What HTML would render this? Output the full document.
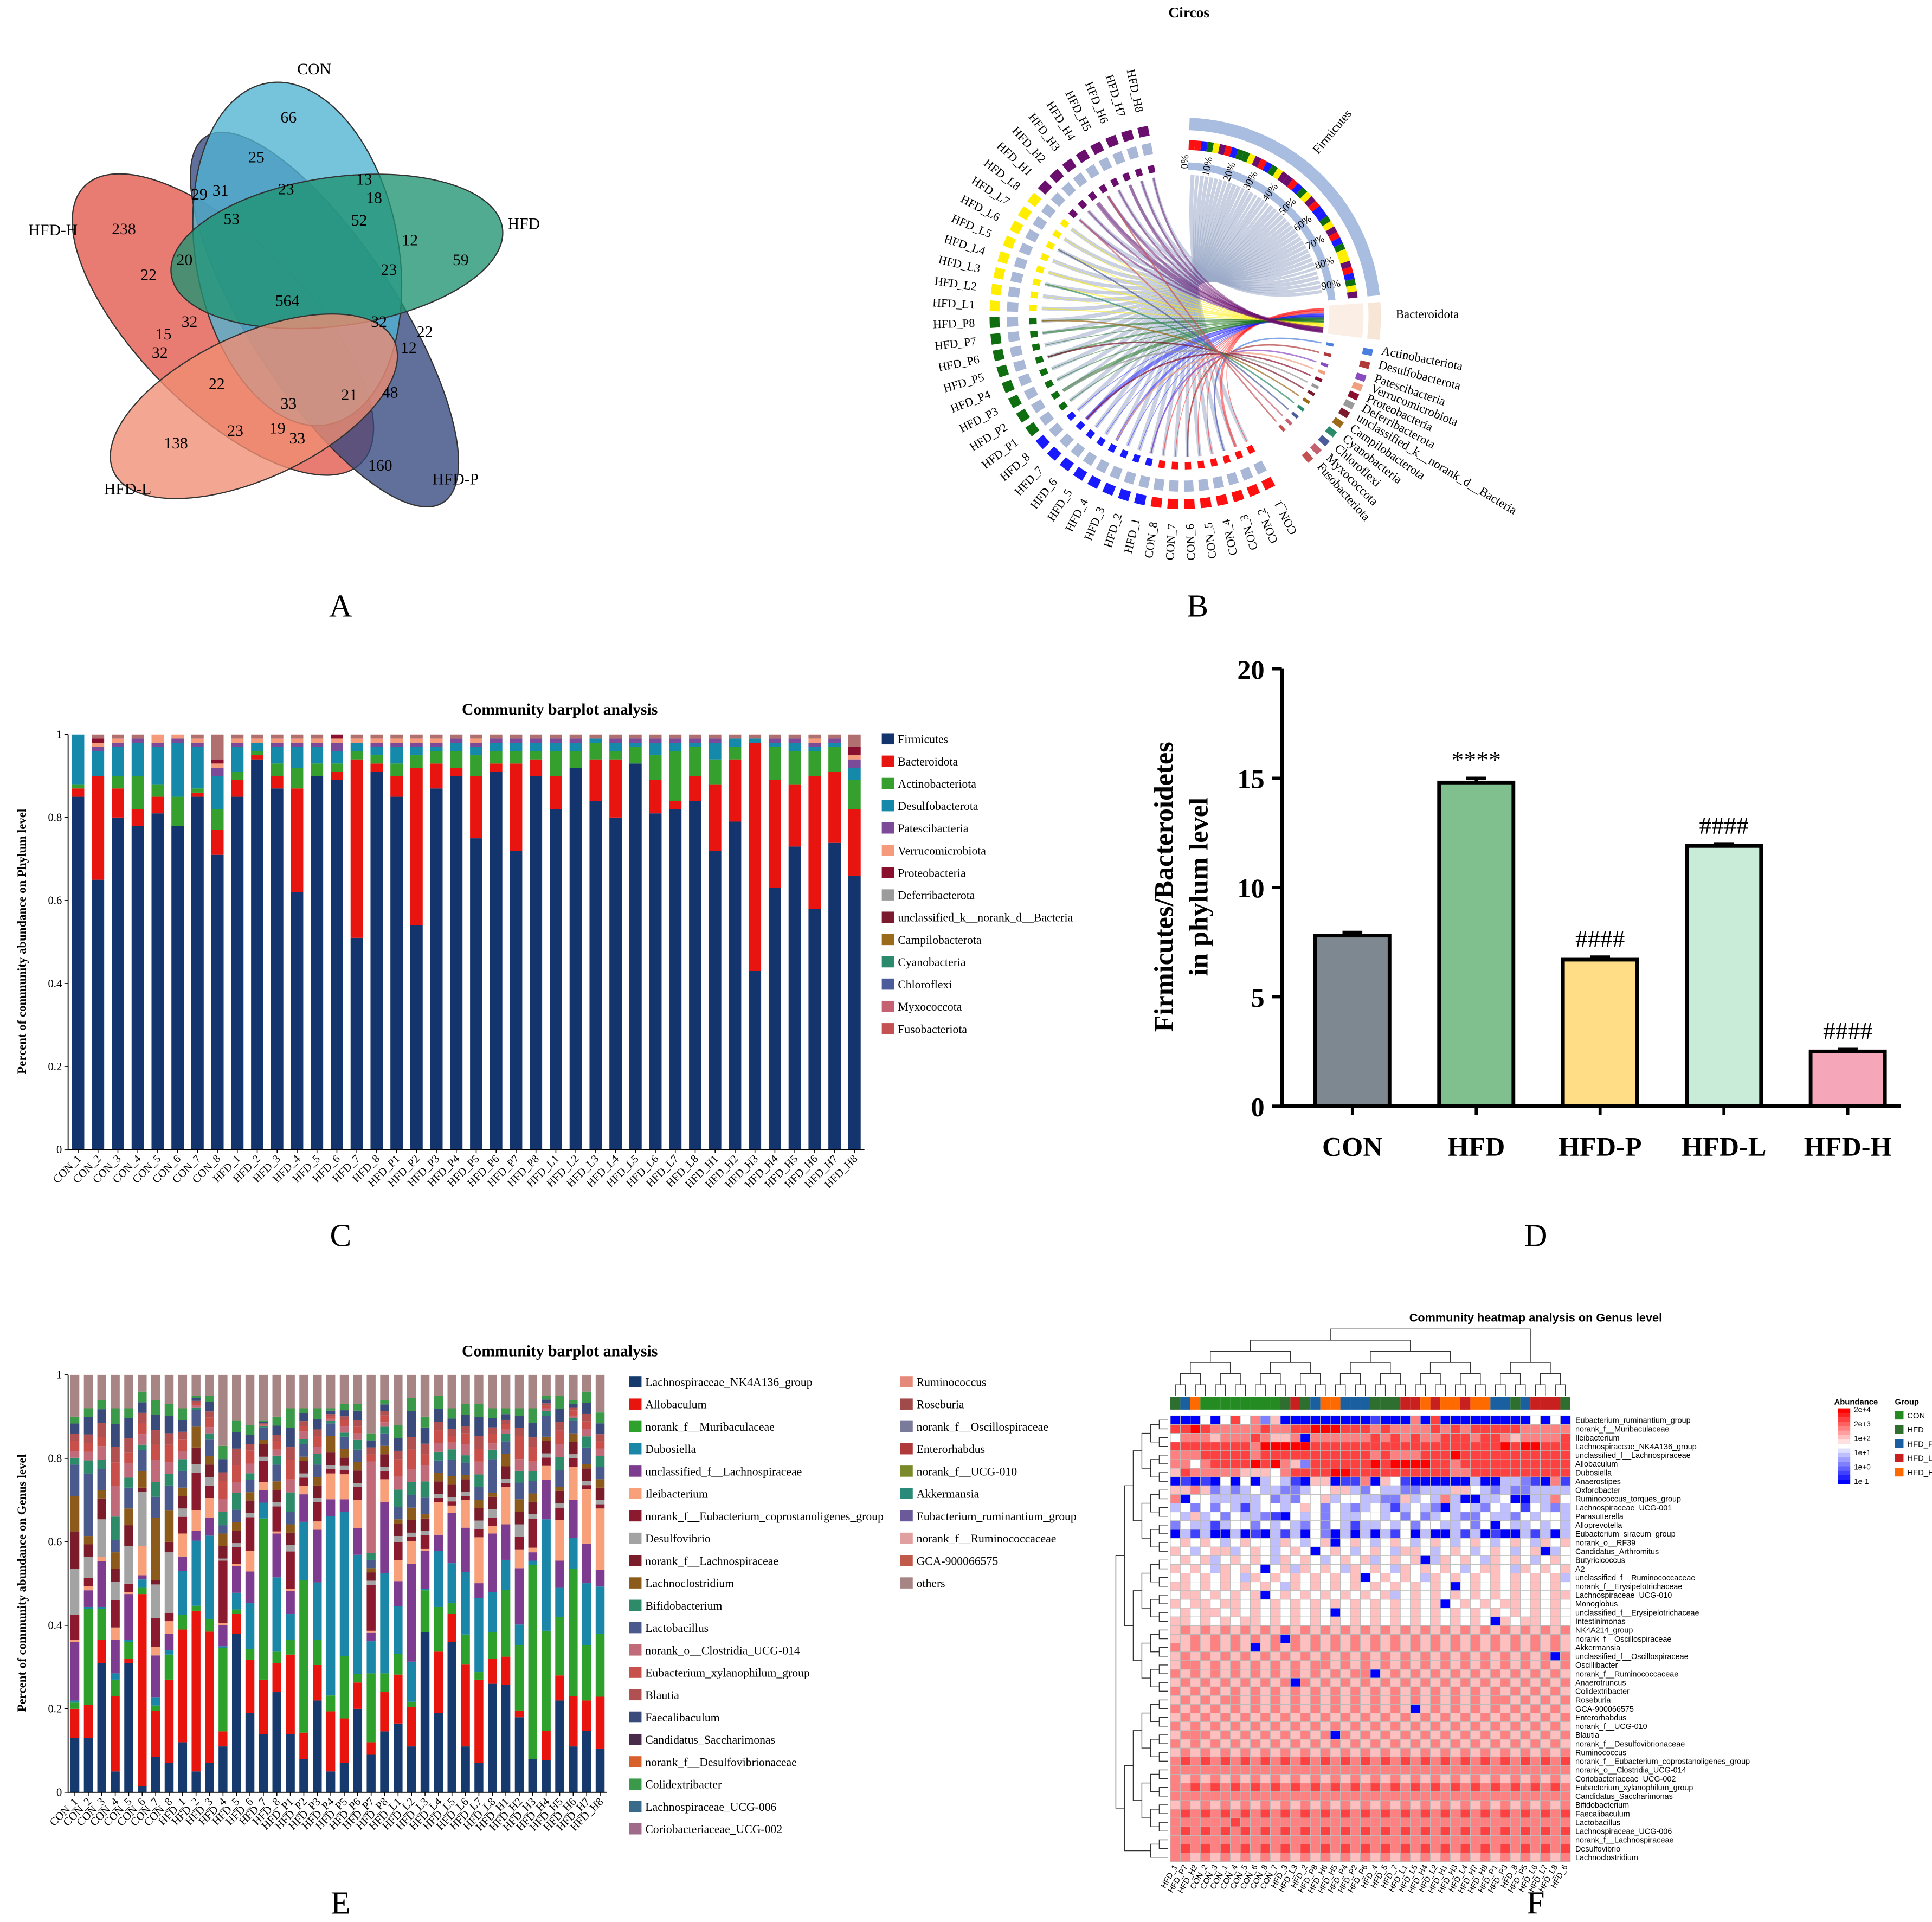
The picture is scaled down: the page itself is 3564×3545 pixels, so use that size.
<!DOCTYPE html>
<html><head><meta charset="utf-8">
<style>
html,body{margin:0;padding:0;background:#fff;}
svg{display:block;}
text{font-family:"Liberation Serif",serif;}
.sans{font-family:"Liberation Sans",sans-serif;}
</style></head>
<body>
<svg id="fig" width="3564" height="3545" viewBox="0 0 1560 1551.7" preserveAspectRatio="none" xmlns="http://www.w3.org/2000/svg">
<rect width="1560" height="1552" fill="#fff"/>

<g font-size="26">
<text x="275" y="498" text-anchor="middle">A</text>
<text x="967" y="498" text-anchor="middle">B</text>
<text x="275" y="1006" text-anchor="middle">C</text>
<text x="1240" y="1006" text-anchor="middle">D</text>
<text x="275" y="1545" text-anchor="middle">E</text>
<text x="1240" y="1545" text-anchor="middle">F</text>
</g>

<g id="venn">
<g stroke="#333" stroke-width="1" fill-opacity="0.78">
<ellipse cx="180" cy="262" rx="68" ry="158" transform="rotate(-45 180 262)" fill="#e2574a"/>
<ellipse cx="262" cy="258" rx="60" ry="176" transform="rotate(-33 262 258)" fill="#34467f"/>
<ellipse cx="240" cy="205" rx="82" ry="140" transform="rotate(-10 240 205)" fill="#4fb3d2"/>
<ellipse cx="272" cy="203" rx="135" ry="60" transform="rotate(-8 272 203)" fill="#1f9372"/>
<ellipse cx="205" cy="328" rx="125" ry="58" transform="rotate(-25 205 328)" fill="#f08d72"/>
</g>
<g font-size="13" text-anchor="middle" class="sans">
<text x="233" y="99">66</text><text x="207" y="131">25</text><text x="231" y="157">23</text><text x="294" y="149">13</text>
<text x="302" y="164">18</text><text x="290" y="182">52</text><text x="331" y="198">12</text><text x="372" y="214">59</text>
<text x="161" y="161">29</text><text x="178" y="158">31</text><text x="187" y="181">53</text><text x="100" y="189">238</text>
<text x="120" y="226">22</text><text x="149" y="214">20</text><text x="314" y="222">23</text><text x="232" y="247">564</text>
<text x="153" y="264">32</text><text x="132" y="274">15</text><text x="129" y="289">32</text><text x="306" y="264">32</text>
<text x="343" y="272">22</text><text x="330" y="285">12</text><text x="175" y="314">22</text><text x="233" y="330">33</text>
<text x="282" y="323">21</text><text x="315" y="321">48</text><text x="190" y="352">23</text><text x="224" y="350">19</text>
<text x="240" y="358">33</text><text x="142" y="362">138</text><text x="307" y="380">160</text>
</g>
<g font-size="13">
<text x="240" y="60">CON</text>
<text x="410" y="185">HFD</text>
<text x="23" y="190">HFD-H</text>
<text x="84" y="399">HFD-L</text>
<text x="349" y="391">HFD-P</text>
</g>
</g>

<g id="circos">
<text x="960" y="14" font-size="12" font-weight="bold" text-anchor="middle">Circos</text>
</g>

<g id="chartC">
<text x="452" y="577" font-size="13" font-weight="bold" text-anchor="middle">Community barplot analysis</text>
<text transform="translate(21 760) rotate(-90)" font-size="10" font-weight="bold" text-anchor="middle">Percent of community abundance on Phylum level</text>
</g>

<g id="chartD">
<text transform="translate(947 716) rotate(-90)" font-size="22" font-weight="bold" text-anchor="middle">Firmicutes/Bacteroidetes</text>
<text transform="translate(975 716) rotate(-90)" font-size="22" font-weight="bold" text-anchor="middle">in phylum level</text>
</g>

<g id="chartE">
<text x="452" y="1095" font-size="13" font-weight="bold" text-anchor="middle">Community barplot analysis</text>
<text transform="translate(21 1278) rotate(-90)" font-size="10" font-weight="bold" text-anchor="middle">Percent of community abundance on Genus level</text>
</g>

<g id="chartF">
<text x="1240" y="1067" font-size="9.5" font-weight="bold" text-anchor="middle" class="sans">Community heatmap analysis on Genus level</text>
</g>
</svg>

<script>
const NS="http://www.w3.org/2000/svg";
function mk(parent,tag,attrs,txt){const e=document.createElementNS(NS,tag);for(const k in attrs)e.setAttribute(k,attrs[k]);if(txt!==undefined)e.textContent=txt;parent.appendChild(e);return e;}

const samples=["CON_1","CON_2","CON_3","CON_4","CON_5","CON_6","CON_7","CON_8","HFD_1","HFD_2","HFD_3","HFD_4","HFD_5","HFD_6","HFD_7","HFD_8",
"HFD_P1","HFD_P2","HFD_P3","HFD_P4","HFD_P5","HFD_P6","HFD_P7","HFD_P8","HFD_L1","HFD_L2","HFD_L3","HFD_L4","HFD_L5","HFD_L6","HFD_L7","HFD_L8",
"HFD_H1","HFD_H2","HFD_H3","HFD_H4","HFD_H5","HFD_H6","HFD_H7","HFD_H8"];

// ===== Panel C data =====
const phylumNames=["Firmicutes","Bacteroidota","Actinobacteriota","Desulfobacterota","Patescibacteria","Verrucomicrobiota","Proteobacteria","Deferribacterota","unclassified_k__norank_d__Bacteria","Campilobacterota","Cyanobacteria","Chloroflexi","Myxococcota","Fusobacteriota"];
const phylumColors=["#13346c","#e8140f","#35a02e","#1589a9","#7b4a98","#f59b7c","#8a0e2e","#9c9c9c","#7a1a2c","#9b6a1b","#2b8a6b","#4b5b9b","#c46272","#c45252"];
const firmicutes=[.85,.65,.80,.78,.81,.78,.85,.71,.85,.94,.87,.62,.90,.89,.51,.91,.85,.54,.87,.90,.75,.91,.72,.90,.82,.92,.84,.80,.93,.81,.82,.84,.72,.79,.43,.63,.73,.58,.74,.66];
const bacteroidota=[.02,.25,.07,.04,.04,.00,.01,.06,.04,.01,.03,.25,.00,.02,.43,.02,.05,.38,.06,.02,.15,.02,.21,.04,.08,.00,.10,.14,.00,.08,.02,.06,.16,.15,.55,.26,.15,.32,.17,.16];
const actinobacteriota=[.01,.00,.03,.08,.03,.07,.01,.05,.02,.01,.03,.05,.03,.02,.02,.02,.03,.03,.03,.04,.05,.03,.03,.02,.06,.04,.04,.02,.04,.06,.12,.07,.06,.03,.00,.08,.08,.06,.06,.07];
const desulfobacterota=[.12,.06,.07,.08,.09,.13,.10,.08,.06,.02,.04,.05,.04,.03,.02,.02,.04,.02,.01,.02,.02,.02,.02,.02,.02,.02,.01,.02,.01,.03,.02,.01,.04,.02,.01,.01,.02,.01,.01,.03];
const patescibacteria=[.00,.01,.01,.01,.01,.01,.01,.02,.01,.00,.01,.01,.01,.02,.00,.01,.01,.01,.01,.01,.01,.01,.01,.01,.01,.01,.00,.01,.01,.01,.01,.01,.01,.00,.00,.01,.01,.01,.01,.02];
const verrucomicrobiota=[.00,.01,.01,.00,.02,.01,.01,.01,.01,.01,.01,.01,.01,.01,.01,.01,.01,.01,.01,.00,.01,.00,.00,.00,.00,.00,.00,.00,.00,.00,.00,.00,.00,.00,.00,.00,.00,.01,.00,.01];
const proteobacteria=[.00,.01,.00,.00,.00,.00,.00,.01,.00,.00,.00,.00,.00,.01,.00,.00,.00,.00,.00,.00,.00,.00,.00,.00,.00,.00,.00,.00,.00,.00,.00,.00,.00,.00,.00,.00,.00,.00,.00,.02];
const yTicksC=["0","0.2","0.4","0.6","0.8","1"];
const yTickValsC=[0,.2,.4,.6,.8,1];

(function(){
const g=document.getElementById('chartC');
const x0=55,x1=698,y0=928,y1=593;const pitch=(x1-x0)/samples.length;
const yS=v=>y0-(y0-y1)*v; const xS=i=>x0+(i+.5)*pitch;
const series=[firmicutes,bacteroidota,actinobacteriota,desulfobacterota,patescibacteria,verrucomicrobiota,proteobacteria];
samples.forEach((s,i)=>{let acc=0;series.forEach((arr,k)=>{const v=arr[i];if(v<=0)return;
const r=mk(g,'rect',{x:xS(i)-5,y:yS(acc+v),width:10,height:yS(acc)-yS(acc+v),fill:phylumColors[k]});


acc+=v;});
const rest=Math.max(0,1-acc);
if(rest>0){const r=mk(g,'rect',{x:xS(i)-5,y:yS(1),width:10,height:yS(acc)-yS(1),fill:"#b07070"});

}
const t=mk(g,'text',{x:xS(i)+3,y:y0+8,'font-size':9,'text-anchor':'end',transform:`rotate(-45 ${xS(i)+3} ${y0+8})`},s);


mk(g,'line',{x1:xS(i),x2:xS(i),y1:y0,y2:y0+3,stroke:'#000','stroke-width':.7});
});
const ax=mk(g,'path',{d:`M${x0} ${y1} V${y0} H${x1}`,stroke:'#000','stroke-width':.8,fill:'none'});


yTickValsC.forEach((v,k)=>{mk(g,'line',{x1:x0-3,x2:x0,y1:yS(v),y2:yS(v),stroke:'#000','stroke-width':.7});
const t=mk(g,'text',{x:x0-5,y:yS(v)+3,'font-size':9,'text-anchor':'end'},yTicksC[k]);

});
phylumNames.forEach((n,k)=>{const y=597+k*18;
const lg=mk(g,'g',{});


mk(lg,'rect',{x:712,y:y-5,width:10,height:9,fill:phylumColors[k]});
mk(lg,'text',{x:725,y:y+3,'font-size':9.5},n);});
})();

// ===== Panel D data =====
const groupsD=["CON","HFD","HFD-P","HFD-L","HFD-H"];
const ratioD=[7.8,14.8,6.7,11.9,2.5];
const errD=[0.15,0.2,0.12,0.1,0.1];
const sigD=["","****","####","####","####"];
const colorsD=["#7e8890","#80c08f","#fedd86","#c9ecd8","#f5a7b9"];
const yTicksD=[0,5,10,15,20];
(function(){
const g=document.getElementById('chartD');
const x0=1035,x1=1535,y0=893,y1=540;const yS=v=>y0-(y0-y1)*v/20;
const pitch=(x1-x0)/groupsD.length;const xS=i=>x0+pitch*(i+.5)+7;
groupsD.forEach((n,i)=>{
const r=mk(g,'rect',{x:xS(i)-30,y:yS(ratioD[i]),width:60,height:y0-yS(ratioD[i]),fill:colorsD[i],stroke:'#000','stroke-width':3});


const e=mk(g,'path',{d:`M${xS(i)} ${yS(ratioD[i])} V${yS(ratioD[i]+errD[i])} M${xS(i)-8} ${yS(ratioD[i]+errD[i])} H${xS(i)+8}`,stroke:'#000','stroke-width':2.5,fill:'none'});


if(sigD[i]){const t=mk(g,'text',{x:xS(i),y:yS(ratioD[i]+errD[i])-8,'font-size':20,'text-anchor':'middle'},sigD[i]);

}
const t=mk(g,'text',{x:xS(i),y:y0+40,'font-size':22,'font-weight':'bold','text-anchor':'middle'},n);


mk(g,'line',{x1:xS(i),x2:xS(i),y1:y0,y2:y0+7,stroke:'#000','stroke-width':2.5});
});
const ax=mk(g,'path',{d:`M${x0} ${y1} V${y0} H${x1}`,stroke:'#000','stroke-width':3,fill:'none'});


yTicksD.forEach(v=>{mk(g,'line',{x1:x0-8,x2:x0,y1:yS(v),y2:yS(v),stroke:'#000','stroke-width':2.5});
const t=mk(g,'text',{x:x0-14,y:yS(v)+8,'font-size':22,'font-weight':'bold','text-anchor':'end'},String(v));

});
})();

// ===== Panel E data =====
const genusLegend=["Lachnospiraceae_NK4A136_group","Allobaculum","norank_f__Muribaculaceae","Dubosiella","unclassified_f__Lachnospiraceae","Ileibacterium","norank_f__Eubacterium_coprostanoligenes_group","Desulfovibrio","norank_f__Lachnospiraceae","Lachnoclostridium","Bifidobacterium","Lactobacillus","norank_o__Clostridia_UCG-014","Eubacterium_xylanophilum_group","Blautia","Faecalibaculum","Candidatus_Saccharimonas","norank_f__Desulfovibrionaceae","Colidextribacter","Lachnospiraceae_UCG-006","Coriobacteriaceae_UCG-002",
"Ruminococcus","Roseburia","norank_f__Oscillospiraceae","Enterorhabdus","norank_f__UCG-010","Akkermansia","Eubacterium_ruminantium_group","norank_f__Ruminococcaceae","GCA-900066575","others"];
const genusColors=["#163a6e","#e8150f","#2ea02c","#1b87a8","#7d3c8f","#f7a07a","#8b1a2e","#a3a3a3","#7a1c2a","#8c5a1a","#2e8b6a","#4a5a8c","#c06a7a","#c9504a","#b05050","#3a4a7a","#4a2a4a","#d8602a","#3a9a4a","#3a6a8a","#a06a8a",
"#e58a7a","#a04a4a","#7a7a9a","#b03a3a","#7a8a2a","#2a8a7a","#6a5a9a","#e0a0a0","#c05a4a","#a88585"];
const nk4a136=[.13,.13,.31,.05,.31,.015,.085,.07,.12,.05,.07,.11,.38,.19,.14,.24,.14,.08,.22,.05,.07,.20,.09,.146,.165,.11,.384,.19,.36,.11,.07,.26,.257,.18,.08,.077,.22,.11,.147,.105];
const allobaculum=[.07,.08,.055,.18,.01,.46,.11,.20,.27,.385,.315,.036,.048,.128,.13,.07,.19,.063,.085,.144,.107,.063,.03,.094,.117,.094,.0,.147,.068,.196,.20,.06,.068,.016,.0,.07,.06,.12,.073,.124];
const muribaculaceae=[.015,.23,.075,.04,.04,.015,.013,.06,.035,.012,.03,.2,.01,.025,.386,.027,.035,.365,.06,.038,.15,.02,.165,.045,.05,.013,.1,.107,.025,.072,.018,.063,.16,.156,.465,.24,.14,.305,.133,.15];
const dubosiella=[.005,.004,.004,.015,.005,.02,.02,.01,.105,.156,.2,.004,.04,.11,.038,.178,.062,.14,.138,.43,.345,.286,.077,.24,.114,.096,.004,.135,.096,.15,.177,.097,.072,.05,.01,.267,.07,.075,.148,.114];
const unclLachno=[.14,.04,.11,.08,.11,.01,.1,.04,.035,.023,.043,.05,.064,.076,.03,.105,.055,.066,.126,.04,.03,.064,.02,.17,.06,.234,.09,.038,.12,.106,.036,.14,.085,.135,.02,.095,.065,.09,.095,.04];
const ileibacterium=[.005,.01,.01,.03,.005,.07,.02,.03,.055,.05,.047,.005,.005,.05,.02,.005,.005,.02,.02,.062,.06,.068,.005,.055,.05,.055,.005,.078,.018,.066,.11,.018,.089,.045,.011,.033,.097,.08,.13,.147];
const eubCopro=[.06,.02,.0,.065,.02,.0,.07,.02,.04,.09,.03,.15,.04,.08,.05,.06,.09,.02,.046,.01,.01,.03,.11,.02,.043,.01,.033,.01,.01,.01,.02,.02,.01,.03,.07,.02,.03,.02,.01,.01];
const desulfovibrio=[.11,.05,.09,.045,.09,.13,.08,.145,.02,.02,.02,.005,.01,.01,.01,.01,.015,.01,.01,.01,.01,.01,.01,.01,.015,.01,.01,.01,.01,.01,.02,.02,.01,.03,.01,.01,.01,.01,.01,.01];
const norankLachno=[.09,.03,.05,.03,.05,.01,.01,.025,.03,.04,.03,.03,.03,.03,.03,.03,.03,.03,.03,.03,.02,.03,.02,.03,.03,.03,.03,.03,.03,.03,.03,.03,.03,.03,.03,.03,.03,.03,.03,.03];
const lachnoclostridium=[.085,.02,.02,.04,.04,.04,.15,.075,.02,.05,.02,.03,.02,.02,.01,.02,.02,.01,.02,.04,.02,.02,.01,.02,.01,.03,.01,.02,.02,.01,.02,.01,.03,.03,.02,.01,.01,.02,.01,.02];
const lactobacillus=[.075,.15,.05,.03,.05,.05,.05,.06,.04,.04,.04,.02,.03,.03,.03,.04,.03,.03,.03,.03,.03,.03,.02,.03,.03,.03,.04,.03,.04,.03,.03,.08,.03,.04,.03,.05,.04,.03,.04,.03];
const bifidobacterium=[.02,.03,.02,.03,.02,.01,.02,.02,.03,.02,.02,.03,.03,.02,.02,.03,.03,.02,.03,.02,.02,.03,.02,.03,.04,.02,.03,.02,.03,.02,.02,.03,.04,.03,.02,.04,.03,.02,.03,.03];
const clostridia014=[.02,.02,.03,.04,.03,.02,.03,.02,.02,.03,.02,.03,.02,.03,.02,.02,.02,.03,.02,.02,.03,.02,.26,.02,.03,.02,.03,.02,.02,.03,.02,.02,.02,.03,.02,.02,.03,.02,.02,.02];
const eubXylano=[.03,.02,.02,.03,.02,.02,.02,.03,.03,.02,.03,.04,.03,.04,.02,.03,.03,.02,.03,.02,.03,.02,.02,.03,.04,.03,.02,.03,.02,.03,.02,.03,.03,.06,.03,.02,.03,.04,.02,.02];
const blautia=[.02,.02,.03,.02,.03,.02,.02,.02,.02,.02,.02,.02,.03,.02,.02,.02,.02,.02,.02,.02,.02,.02,.02,.02,.02,.02,.02,.02,.02,.02,.02,.02,.02,.02,.02,.02,.02,.02,.02,.02];
const faecalibaculum=[.03,.04,.03,.03,.04,.02,.02,.03,.03,.03,.03,.03,.03,.03,.03,.03,.03,.03,.03,.03,.03,.03,.02,.03,.03,.04,.03,.03,.03,.03,.03,.03,.03,.03,.03,.03,.03,.03,.03,.03];
const colidextribacter=[.02,.02,.02,.02,.02,.02,.02,.02,.03,.02,.02,.03,.02,.03,.02,.03,.03,.02,.03,.02,.03,.02,.02,.02,.03,.02,.02,.03,.03,.03,.02,.03,.03,.02,.03,.03,.03,.03,.03,.03];
const othersE=[.10,.08,.06,.08,.08,.04,.06,.07,.08,.05,.05,.17,.11,.12,.11,.10,.08,.08,.08,.08,.07,.07,.14,.06,.12,.055,.10,.05,.08,.07,.07,.08,.08,.08,.08,.05,.05,.06,.04,.09];
const yTicksE=["0","0.2","0.4","0.6","0.8","1"];
(function(){
const g=document.getElementById('chartE');
const x0=55,x1=490,y0=1447,y1=1110;const pitch=(x1-x0)/samples.length;
const yS=v=>y0-(y0-y1)*v;const xS=i=>x0+(i+.5)*pitch;
const major=[[nk4a136,0],[allobaculum,1],[muribaculaceae,2],[dubosiella,3],[unclLachno,4],[ileibacterium,5],[eubCopro,6],[desulfovibrio,7],[norankLachno,8],[lachnoclostridium,9],[lactobacillus,11]];
const minor=[[bifidobacterium,10],[clostridia014,12],[eubXylano,13],[blautia,14],[faecalibaculum,15],[colidextribacter,18]];
samples.forEach((s,i)=>{
let msum=0;major.forEach(m=>msum+=m[0][i]);
const oth=othersE[i];
const msc=msum+oth>1?(1-oth)/msum:1;
let acc=0;
function seg(v,k,nm){if(v<=0)return;const r=mk(g,'rect',{x:xS(i)-3.6,y:yS(acc+v),width:7.2,height:yS(acc)-yS(acc+v),fill:genusColors[k]});

acc+=v;}
major.forEach(m=>seg(m[0][i]*msc,m[1],genusLegend[m[1]]));
const gap=Math.max(0,1-oth-acc);let nsum=0;minor.forEach(m=>nsum+=m[0][i]);
minor.forEach(m=>seg(gap*m[0][i]/nsum,m[1],genusLegend[m[1]]));
seg(1-acc,30,'others');
const t=mk(g,'text',{x:xS(i)+3,y:y0+8,'font-size':9,'text-anchor':'end',transform:`rotate(-45 ${xS(i)+3} ${y0+8})`},s);


mk(g,'line',{x1:xS(i),x2:xS(i),y1:y0,y2:y0+3,stroke:'#000','stroke-width':.7});
});
const ax=mk(g,'path',{d:`M${x0} ${y1} V${y0} H${x1}`,stroke:'#000','stroke-width':.8,fill:'none'});


yTicksE.forEach((lab,k)=>{const v=k*.2;mk(g,'line',{x1:x0-3,x2:x0,y1:yS(v),y2:yS(v),stroke:'#000','stroke-width':.7});
const t=mk(g,'text',{x:x0-5,y:yS(v)+3,'font-size':9,'text-anchor':'end'},lab);

});
genusLegend.forEach((n,k)=>{const col=k<21?0:1;const row=col?k-21:k;const x=col?727:508;const y=1116+row*18.05;
const lg=mk(g,'g',{});


mk(lg,'rect',{x:x,y:y-5,width:10,height:9,fill:genusColors[k]});
mk(lg,'text',{x:x+13,y:y+3,'font-size':9.5},n);});
})();

// ===== Panel F data =====
const heatRows=["Eubacterium_ruminantium_group","norank_f__Muribaculaceae","Ileibacterium","Lachnospiraceae_NK4A136_group","unclassified_f__Lachnospiraceae","Allobaculum","Dubosiella","Anaerostipes","Oxfordbacter","Ruminococcus_torques_group","Lachnospiraceae_UCG-001","Parasutterella","Alloprevotella","Eubacterium_siraeum_group","norank_o__RF39","Candidatus_Arthromitus","Butyricicoccus","A2","unclassified_f__Ruminococcaceae","norank_f__Erysipelotrichaceae","Lachnospiraceae_UCG-010","Monoglobus","unclassified_f__Erysipelotrichaceae","Intestinimonas","NK4A214_group","norank_f__Oscillospiraceae","Akkermansia","unclassified_f__Oscillospiraceae","Oscillibacter","norank_f__Ruminococcaceae","Anaerotruncus","Colidextribacter","Roseburia","GCA-900066575","Enterorhabdus","norank_f__UCG-010","Blautia","norank_f__Desulfovibrionaceae","Ruminococcus","norank_f__Eubacterium_coprostanoligenes_group","norank_o__Clostridia_UCG-014","Coriobacteriaceae_UCG-002","Eubacterium_xylanophilum_group","Candidatus_Saccharimonas","Bifidobacterium","Faecalibaculum","Lactobacillus","Lachnospiraceae_UCG-006","norank_f__Lachnospiraceae","Desulfovibrio","Lachnoclostridium"];
const heatCols=["HFD_1","HFD_P7","HFD_H2","CON_2","CON_3","CON_1","CON_4","CON_5","CON_6","CON_8","CON_7","HFD_3","HFD_L3","HFD_2","HFD_P8","HFD_H6","HFD_H5","HFD_P4","HFD_P2","HFD_P6","HFD_4","HFD_5","HFD_7","HFD_L1","HFD_L5","HFD_H4","HFD_L2","HFD_H1","HFD_H3","HFD_L4","HFD_H7","HFD_H8","HFD_P1","HFD_P3","HFD_8","HFD_P5","HFD_L6","HFD_L7","HFD_L8","HFD_6"];
const heatGroups="HPAccccccccHLHPAAPPPHHHLLALAALAAPPHPLLLH";
const heatVals=[
"0004047462500000000010006070000000004040",
"7787666667667788877767666676767777766666",
"4666566676556066666676767667776776566667",
"7777777768888877777777777777777778788777",
"6667777767777777777767666777877777777777",
"6646777787865277777787888877677777777777",
"5766666555467777887777777777667777777777",
"0101040403431055011605410000003003321061",
"5565232343322344553243322333554323223333",
"6044333334232445344332253436300334003364",
"3424243134434542432343134320343243414323",
"4353424332104342433443424234322433243443",
"2433134424343242431334342443342404334343",
"0313003010313042030303140300313010031303",
"4545434544354345045434543454345434543545",
"5434553454345404543454355434543454345034",
"4545345454354543454534545035454354543454",
"5454354540453545435454354545434554354545",
"4545454354545454545045454354545454545453",
"5545454545435454545454545454045454545454",
"4554545450454545454545345454545454545455",
"5455455454545454545454545450454545545454",
"4545545454545454045454545454545454545454",
"5545454554545454545454545454545405455454",
"5656565656565656565656565656565656565656",
"5565656565606565656565656565656565656565",
"6565656505656565656565656565656565656565",
"5656565656565656565656565656565656565606",
"5665656565656566565656565656565656565656",
"6565656565656565656605656565656565656565",
"5656565656560656565656565656565656565656",
"6565656565656565656565656565656565656565",
"5656566565656565656565656565656566565656",
"6565656565656565656565650565656565656565",
"5656565656565656565656565656565656565656",
"6565656565656565656565656565656565656565",
"5666565656565656065656565656565656565656",
"6565656565656565656565656565656565656565",
"5656565656565656565656565656565656565656",
"6767676767676767676767676767676767676767",
"6666666666666666666666666666666666666666",
"6565656565656565656565656565656565656565",
"6676767676767676767676767676767676767676",
"6666666666666666666666666666666666666666",
"5656565656565656565656565656565656565656",
"6767676767676767676767676767676767676767",
"6666667666666666666666666666666666666666",
"6767676767676767676767676767676767676767",
"6666666666666666666666666666666666666666",
"6767676767676767676767676767676767676767",
"6656565656565656565656565656565656565656"];
const groupColor={c:"#238b22",H:"#2e6e2e",P:"#1a5fa0",L:"#c8201e",A:"#ff6a00"};
function heatColor(d){
  if(d<=4){const t=d/4;const r=Math.round(255*t),gg=Math.round(255*t);return `rgb(${r},${gg},255)`;}
  const t=(d-4)/4;const gb=Math.round(255-255*t);return `rgb(255,${gb},${gb})`;
}
(function(){
const g=document.getElementById('chartF');
const x0=945,x1=1268,y0=1143,y1=1503;
const cw=(x1-x0)/heatCols.length, ch=(y1-y0)/heatRows.length;
heatCols.forEach((c,j)=>{
const r=mk(g,'rect',{x:x0+j*cw,y:1128,width:cw,height:10,fill:groupColor[heatGroups[j]]});


const t=mk(g,'text',{x:x0+(j+.5)*cw+2,y:y1+4,'font-size':6.5,'text-anchor':'end',class:'sans',transform:`rotate(-60 ${x0+(j+.5)*cw+2} ${y1+4})`},c);


});
heatRows.forEach((rn,i)=>{
const s=heatVals[i];
heatCols.forEach((c,j)=>{
const d=+s.charAt(j%s.length);
const r=mk(g,'rect',{x:x0+j*cw,y:y0+i*ch,width:cw,height:ch,fill:heatColor(d),stroke:'#bbb','stroke-width':.4});


});
const t=mk(g,'text',{x:x1+4,y:y0+(i+.5)*ch+2.3,'font-size':6.3,class:'sans'},rn);


});
const dg=mk(g,'g',{stroke:'#333','stroke-width':.6,fill:'none'});


let nodes=heatRows.map((_,i)=>({y:y0+(i+.5)*ch,x:x0-2}));let lev=1;
while(nodes.length>1){const nn=[];for(let k=0;k<nodes.length;k+=2){if(k+1<nodes.length){const a=nodes[k],b=nodes[k+1];const x=x0-2-lev*7;
mk(dg,'path',{d:`M${a.x} ${a.y} H${x} V${b.y} H${b.x}`});nn.push({x:x,y:(a.y+b.y)/2});}else nn.push(nodes[k]);}nodes=nn;lev++;}
const tg=mk(g,'g',{stroke:'#333','stroke-width':.6,fill:'none'});


nodes=heatCols.map((_,j)=>({x:x0+(j+.5)*cw,y:1127}));lev=1;
while(nodes.length>1){const nn=[];for(let k=0;k<nodes.length;k+=2){if(k+1<nodes.length){const a=nodes[k],b=nodes[k+1];const y=1127-lev*9;
mk(tg,'path',{d:`M${a.x} ${a.y} V${y} H${b.x} V${b.y}`});nn.push({x:(a.x+b.x)/2,y:y});}else nn.push(nodes[k]);}nodes=nn;lev++;}
const lg=mk(g,'g',{});


mk(lg,'text',{x:1481,y:1134,'font-size':6.5,'font-weight':'bold',class:'sans'},"Abundance");
const cbLabels=["2e+4","2e+3","1e+2","1e+1","1e+0","1e-1"];
for(let k=0;k<=16;k++){mk(lg,'rect',{x:1484,y:1137+k*3.6,width:10,height:3.7,fill:heatColor(8-k/2)});}
cbLabels.forEach((l,k)=>mk(lg,'text',{x:1497,y:1140+k*11.6,'font-size':6,class:'sans'},l));
const gl=mk(g,'g',{});


mk(gl,'text',{x:1530,y:1134,'font-size':6.5,'font-weight':'bold',class:'sans'},"Group");
[["CON","c"],["HFD","H"],["HFD_P","P"],["HFD_L","L"],["HFD_H","A"]].forEach((p,k)=>{
mk(gl,'rect',{x:1530,y:1139+k*11.5,width:7,height:7,fill:groupColor[p[1]]});
mk(gl,'text',{x:1540,y:1145+k*11.5,'font-size':6.5,class:'sans'},p[0]);});
})();

// ===== Panel B circos =====
const circosGroupColors={CON:"#ff1010",HFD:"#1a1aff",P:"#0f6e0f",L:"#ffee00",H:"#6a0f6e"};
(function(){
const g=document.getElementById('circos');
const cx=955,cy=255;
const pol=(r,a)=>[cx+r*Math.sin(a*Math.PI/180),cy-r*Math.cos(a*Math.PI/180)];
function arc(r0,r1,a0,a1,fill,name){const p1=pol(r1,a0),p2=pol(r1,a1),p3=pol(r0,a1),p4=pol(r0,a0);const lg=(a1-a0)>180?1:0;
const e=mk(g,'path',{d:`M${p1} A${r1} ${r1} 0 ${lg} 1 ${p2} L${p3} A${r0} ${r0} 0 ${lg} 0 ${p4}Z`,fill:fill});

return e;}
const grp=s=>s.startsWith("CON")?"CON":s.startsWith("HFD_P")?"P":s.startsWith("HFD_L")?"L":s.startsWith("HFD_H")?"H":"HFD";
const aS=i=>153+i*5.0;
const cg=mk(g,'g',{fill:'none'});


samples.forEach((s,i)=>{const a=aS(i);const p1=pol(114,a);const t=4+i*1.95;const p2=pol(114,t);
mk(cg,'path',{d:`M${p1} Q${cx} ${cy} ${p2}`,stroke:'#9aaac8','stroke-width':1+firmicutes[i]*2.5,'stroke-opacity':.55});
});
samples.forEach((s,i)=>{const a=aS(i);const p1=pol(114,a);const t=87+i*0.25;const p2=pol(114,t);
mk(cg,'path',{d:`M${p1} Q${cx} ${cy} ${p2}`,stroke:circosGroupColors[grp(s)],'stroke-width':.5+bacteroidota[i]*6,'stroke-opacity':.5});
});
const small=[["Actinobacteriota",101,"#4a7fe0"],["Desulfobacterota",105,"#b03a3a"],["Patescibacteria",109,"#8a4ac0"],["Verrucomicrobiota",112,"#f0a080"],["Proteobacteria",115,"#8a0e2e"],["Deferribacterota",118,"#999"],["unclassified_k__norank_d__Bacteria",121,"#7a1a2c"],["Campilobacterota",124.5,"#9b6a1b"],["Cyanobacteria",128,"#2b8a6b"],["Chloroflexi",131.5,"#4b5b9b"],["Myxococcota",135,"#c46272"],["Fusobacteriota",138.5,"#c45252"]];
small.forEach((p,k)=>{const a=p[1];const p2=pol(114,a);const p1=pol(114,aS(k*3+2));
mk(cg,'path',{d:`M${p1} Q${cx} ${cy} ${p2}`,stroke:p[2],'stroke-width':1.2,'stroke-opacity':.7});});
samples.forEach((s,i)=>{const a=aS(i);const col=circosGroupColors[grp(s)];
arc(148,156,a-1.6,a+1.6,col,'sample-outer-'+s.toLowerCase());
arc(133,142,a-1.6,a+1.6,'#a9b7d6','sample-ring-'+s.toLowerCase());
arc(118,124,a-1.2,a+1.2,col,'sample-inner-'+s.toLowerCase());
const p=pol(168,a);const t=mk(g,'text',{x:p[0],y:p[1]+3,'font-size':9.5,'text-anchor':'end',transform:`rotate(${a-270} ${p[0]} ${p[1]})`},s);


});
arc(150,160,2,84,'#a8bddf','arc-firmicutes');
for(let k=0;k<40;k++){const a0=2+k*2.05;arc(134,142,a0,a0+2.05,circosGroupColors[grp(samples[(k*7)%40])],'firmicutes-composition');}
arc(118,124,2,84,'#a8bddf','arc-firmicutes-inner');
arc(150,160,86,97,'#f7e6d6','arc-bacteroidota');
arc(118,146,86,97,'#fbeee4','arc-bacteroidota-inner');
small.forEach(p=>{arc(148,156,p[1]-1,p[1]+1,p[2],'arc-'+p[0].toLowerCase());arc(118,124,p[1]-.6,p[1]+.6,p[2],'arc-inner');});
["0%","10%","20%","30%","40%","50%","60%","70%","80%","90%"].forEach((l,k)=>{const a=2+k*8.6;const p=pol(130,a);
const t=mk(g,'text',{x:p[0],y:p[1],'font-size':8.5,'text-anchor':'end',transform:`rotate(${a-90} ${p[0]} ${p[1]})`},l);

});
const fp=pol(170,40);
const ft=mk(g,'text',{x:fp[0],y:fp[1],'font-size':10,transform:`rotate(-50 ${fp[0]} ${fp[1]})`},"Firmicutes");


const bt=mk(g,'text',{x:1127,y:257,'font-size':10},"Bacteroidota");


small.forEach(p=>{const pp=pol(163,p[1]);const t=mk(g,'text',{x:pp[0],y:pp[1],'font-size':10,transform:`rotate(${p[1]-90} ${pp[0]} ${pp[1]})`},p[0]);

});
})();
</script>
</body></html>
